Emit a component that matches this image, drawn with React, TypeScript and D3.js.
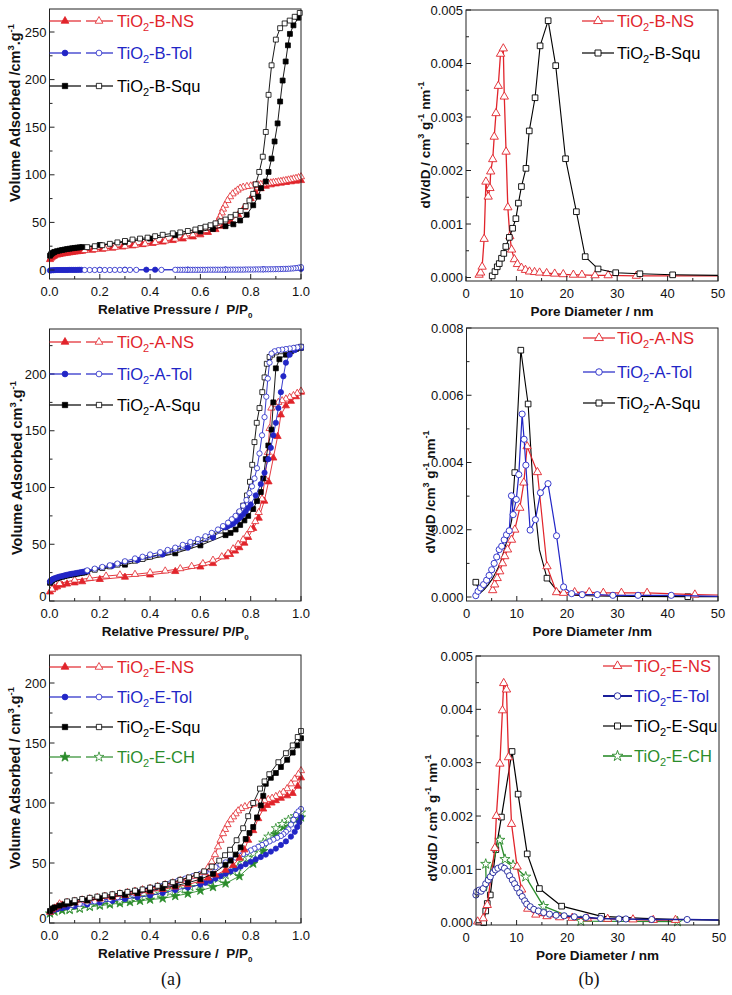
import React from 'react';
import * as d3 from 'd3';

type Pt = [number, number];
type Shape = 'triangle' | 'circle' | 'square' | 'star';

// ---------- (a) top: TiO2-B isotherms ----------
const bNsAds: Pt[] = [[0.002,11],[0.006,12.5],[0.01,13.5],[0.015,14.3],[0.02,14.9],[0.03,15.7],[0.04,16.3],[0.05,16.8],[0.06,17.3],[0.07,17.7],[0.08,18.1],[0.09,18.5],[0.1,18.9],[0.11,19.2],[0.12,19.5],[0.13,19.8],[0.17,20.8],[0.21,21.8],[0.25,23],[0.29,24.2],[0.33,25.4],[0.37,26.7],[0.41,28],[0.45,29.4],[0.49,31],[0.53,32.7],[0.57,34.8],[0.6,37],[0.63,39.5],[0.66,42.5],[0.69,46],[0.72,51],[0.75,58],[0.775,66],[0.8,75],[0.82,81],[0.84,85.5],[0.86,88],[0.88,89.5],[0.9,90.5],[0.92,91.3],[0.94,92],[0.96,92.7],[0.98,93.4],[1.0,94]];
const bNsDes: Pt[] = [[1.0,98],[0.99,97],[0.98,96.3],[0.97,95.7],[0.96,95.1],[0.95,94.6],[0.94,94.1],[0.93,93.6],[0.92,93.1],[0.91,92.7],[0.9,92.3],[0.89,91.9],[0.88,91.5],[0.87,91.1],[0.86,90.7],[0.85,90.3],[0.84,89.9],[0.83,89.5],[0.82,89.1],[0.81,88.7],[0.8,88.3],[0.785,87.8],[0.77,87],[0.758,86],[0.748,84],[0.738,82],[0.728,80],[0.718,77],[0.708,73],[0.698,68],[0.69,64],[0.685,60],[0.678,56],[0.672,52],[0.665,49],[0.655,46.5],[0.64,44],[0.62,41.5],[0.6,39.5],[0.57,37],[0.54,35],[0.5,32.5],[0.46,30.5],[0.42,29],[0.38,27.5],[0.34,26],[0.3,25],[0.26,23.8],[0.22,22.5],[0.18,21.5],[0.14,20.5]];
const bTolAds: Pt[] = [[0.002,-0.5],[0.008,-0.3],[0.015,-0.2],[0.022,-0.1],[0.03,0],[0.038,0],[0.046,0],[0.054,0],[0.062,0],[0.07,0],[0.078,0.1],[0.086,0.1],[0.094,0.1],[0.102,0.1],[0.11,0.1],[0.118,0.2],[0.126,0.2],[0.2,0.2],[0.3,0.3],[0.385,0.3],[0.42,0.3],[0.55,0.4],[0.7,0.5],[0.85,0.7],[1.0,1.2]];
const bTolDes: Pt[] = [[1.0,3],[0.99,2.4],[0.98,2],[0.97,1.7],[0.96,1.5],[0.95,1.3],[0.94,1.2],[0.93,1.1],[0.92,1],[0.91,0.9],[0.9,0.9],[0.89,0.8],[0.88,0.8],[0.87,0.7],[0.86,0.7],[0.85,0.7],[0.84,0.6],[0.83,0.6],[0.82,0.6],[0.81,0.5],[0.8,0.5],[0.79,0.5],[0.78,0.5],[0.77,0.4],[0.76,0.4],[0.75,0.4],[0.74,0.4],[0.73,0.4],[0.72,0.4],[0.71,0.3],[0.7,0.3],[0.69,0.3],[0.68,0.3],[0.67,0.3],[0.66,0.3],[0.65,0.3],[0.64,0.3],[0.63,0.3],[0.62,0.2],[0.61,0.2],[0.6,0.2],[0.59,0.2],[0.58,0.2],[0.57,0.2],[0.56,0.2],[0.55,0.2],[0.54,0.2],[0.53,0.2],[0.52,0.2],[0.51,0.2],[0.5,0.2],[0.445,0.1],[0.345,0.1],[0.32,0.1],[0.3,0.1],[0.28,0.1],[0.26,0.1],[0.24,0],[0.22,0],[0.2,0],[0.18,0],[0.16,0],[0.14,0]];
const bSquAds: Pt[] = [[0.002,15],[0.006,16.5],[0.01,17.5],[0.015,18.3],[0.02,19],[0.03,19.8],[0.04,20.4],[0.05,21],[0.06,21.5],[0.07,22],[0.08,22.4],[0.09,22.8],[0.1,23.2],[0.11,23.5],[0.12,23.8],[0.13,24.1],[0.2,26.3],[0.3,29.5],[0.4,33],[0.5,36.5],[0.6,40.5],[0.65,43],[0.7,46],[0.731,48],[0.758,52],[0.784,58],[0.81,68],[0.83,77],[0.841,86],[0.86,93],[0.871,103],[0.883,117],[0.895,135],[0.907,154],[0.917,177],[0.927,199],[0.939,219],[0.948,236],[0.956,248],[0.97,257],[0.99,265]];
const bSquDes: Pt[] = [[0.995,270],[0.975,266],[0.955,262],[0.935,259],[0.917,254],[0.9,242],[0.883,215],[0.871,184],[0.86,145],[0.848,119],[0.834,103],[0.82,90],[0.81,80],[0.795,73],[0.78,67],[0.76,62],[0.74,58],[0.72,55.5],[0.7,53],[0.68,51],[0.66,49],[0.64,47],[0.62,45.5],[0.6,44],[0.58,42.5],[0.55,41],[0.52,39.5],[0.49,38.5],[0.45,37],[0.42,35.5],[0.39,34],[0.36,33],[0.33,32],[0.3,30.5],[0.27,29],[0.24,27.5],[0.21,26],[0.18,25],[0.15,24]];

// ---------- (a) middle: TiO2-A isotherms ----------
const aNsAds: Pt[] = [[0.002,8],[0.01,10],[0.02,11.5],[0.03,12.5],[0.05,14],[0.07,15],[0.1,16],[0.13,17],[0.2,19],[0.3,21],[0.4,23],[0.5,26],[0.6,30],[0.65,33],[0.7,39],[0.718,41],[0.738,44],[0.755,47],[0.775,51],[0.79,56],[0.81,64],[0.832,73],[0.854,88],[0.871,105],[0.89,126],[0.907,145],[0.92,164],[0.94,172],[0.96,176],[0.98,180],[1.0,184]];
const aNsDes: Pt[] = [[1.0,185],[0.985,183],[0.97,181],[0.955,179.5],[0.94,178],[0.925,176.5],[0.91,175],[0.895,173],[0.882,170],[0.875,152],[0.868,131],[0.857,108],[0.845,90],[0.832,78],[0.818,70],[0.8,63],[0.785,58],[0.77,54],[0.75,50],[0.73,46],[0.71,42],[0.685,39],[0.65,36],[0.61,33],[0.565,30.5],[0.52,28.5],[0.46,26.5],[0.4,25],[0.34,23.5],[0.28,23],[0.225,22],[0.16,20],[0.1,18.5],[0.04,15.5],[0.01,10.5]];
const aTolAds: Pt[] = [[0.002,17],[0.005,18],[0.01,18.8],[0.015,19.5],[0.02,20],[0.03,20.8],[0.04,21.5],[0.05,22],[0.06,22.6],[0.07,23.1],[0.08,23.6],[0.09,24],[0.1,24.4],[0.11,24.8],[0.12,25.2],[0.13,25.6],[0.14,26],[0.15,26.3],[0.25,31],[0.35,36],[0.45,41],[0.55,47],[0.65,56],[0.7,65],[0.71,66],[0.72,67],[0.73,68],[0.74,70],[0.75,72],[0.76,74],[0.77,76.5],[0.78,79],[0.79,82],[0.8,85],[0.82,93],[0.84,103],[0.855,113],[0.87,125],[0.88,135],[0.89,146],[0.9,157],[0.91,170],[0.92,184],[0.93,198],[0.94,210],[0.955,217],[0.975,221],[1.0,223]];
const aTolDes: Pt[] = [[1.0,224],[0.985,223.5],[0.97,223],[0.955,222.5],[0.94,222],[0.925,221.5],[0.91,221],[0.895,220],[0.883,218],[0.875,210],[0.868,196],[0.862,180],[0.855,162],[0.845,146],[0.835,130],[0.825,117],[0.815,108],[0.805,101],[0.795,95],[0.783,89],[0.77,84],[0.755,79],[0.74,75],[0.725,72],[0.71,69],[0.69,66],[0.67,63],[0.645,60],[0.62,57],[0.59,54.5],[0.56,52],[0.53,49.5],[0.5,47],[0.47,45],[0.44,43],[0.4,41],[0.37,39],[0.34,37.5],[0.3,35],[0.27,33],[0.24,31.5],[0.21,30],[0.18,28.5],[0.15,27]];
const aSquAds: Pt[] = [[0.002,16],[0.005,17],[0.01,18],[0.02,19.2],[0.03,20],[0.04,20.7],[0.05,21.3],[0.06,21.9],[0.07,22.4],[0.08,22.9],[0.09,23.3],[0.1,23.7],[0.11,24.1],[0.12,24.5],[0.13,24.9],[0.14,25.2],[0.3,32],[0.5,42],[0.6,49],[0.7,58],[0.72,60],[0.74,63],[0.758,67],[0.775,71],[0.79,75],[0.81,81],[0.825,88],[0.84,96],[0.85,108],[0.86,125],[0.87,137],[0.883,151],[0.89,175],[0.9,205],[0.914,213],[0.94,217],[0.96,220],[0.98,222],[1.0,223]];
const aSquDes: Pt[] = [[1.0,224],[0.98,223],[0.96,222],[0.94,221],[0.92,220],[0.9,219],[0.885,217],[0.875,215],[0.864,209],[0.855,197],[0.846,184],[0.835,170],[0.824,157],[0.815,140],[0.806,120],[0.797,105],[0.785,93],[0.77,84],[0.755,78],[0.74,73],[0.72,69],[0.7,65],[0.68,62],[0.65,58],[0.62,54.5],[0.59,52],[0.56,49],[0.53,47],[0.5,45],[0.47,43],[0.44,41],[0.4,39],[0.37,37],[0.34,35.5],[0.3,34],[0.27,32],[0.24,30.5],[0.21,29],[0.18,27.5],[0.15,26]];

// ---------- (a) bottom: TiO2-E isotherms ----------
const eNsAds: Pt[] = [[0.002,9],[0.01,11],[0.02,12.5],[0.03,13.5],[0.05,15],[0.07,16],[0.1,17],[0.15,18.5],[0.2,20],[0.25,21.5],[0.3,23],[0.35,24.5],[0.4,26],[0.45,28],[0.5,30],[0.55,32],[0.6,35],[0.63,37.5],[0.66,40],[0.7,44],[0.73,48],[0.755,54],[0.775,61],[0.79,69],[0.81,77],[0.83,87],[0.85,95],[0.865,98],[0.883,100],[0.9,102],[0.92,104],[0.945,106],[0.967,108],[0.987,114],[1.0,121]];
const eNsDes: Pt[] = [[1.0,127],[0.99,124],[0.975,120],[0.96,116],[0.945,112],[0.93,109],[0.915,107],[0.9,105.5],[0.885,104],[0.87,103],[0.855,102],[0.84,101],[0.825,100],[0.81,99],[0.795,98],[0.777,97],[0.762,95.5],[0.75,93.5],[0.74,91],[0.73,88.5],[0.72,86],[0.708,82],[0.698,78],[0.69,74.5],[0.68,69],[0.67,63.5],[0.658,57],[0.645,51],[0.63,46],[0.61,42],[0.58,39],[0.55,37],[0.52,35.5],[0.49,33.5],[0.46,32],[0.43,30.5],[0.4,29],[0.37,27.8],[0.34,26.6],[0.31,25.5],[0.28,24.4],[0.25,23.3],[0.22,22.3],[0.19,21.3],[0.16,20.3],[0.13,19.3],[0.1,18.3],[0.07,17.2],[0.04,16]];
const eTolAds: Pt[] = [[0.002,9],[0.01,10],[0.02,11],[0.03,11.5],[0.05,12.5],[0.07,13.2],[0.1,14],[0.15,15.5],[0.2,17],[0.25,18.5],[0.3,20],[0.35,21.5],[0.4,23],[0.45,25],[0.5,27.5],[0.55,29.5],[0.6,32],[0.62,33.5],[0.64,35],[0.66,37],[0.68,39],[0.7,41],[0.72,43],[0.74,45],[0.76,47],[0.78,49],[0.8,51],[0.82,53],[0.84,55],[0.86,57],[0.88,59.5],[0.9,62],[0.92,65],[0.94,68],[0.96,72],[0.975,76],[0.985,80],[0.993,84],[1.0,88]];
const eTolDes: Pt[] = [[1.0,95],[0.99,93],[0.98,90],[0.97,86],[0.96,82],[0.95,78],[0.94,76],[0.93,74],[0.92,72.5],[0.905,71],[0.89,69.5],[0.875,68],[0.86,66.5],[0.845,65],[0.83,63.5],[0.815,62],[0.8,60.5],[0.785,59],[0.77,57.5],[0.755,56],[0.74,54.5],[0.72,52.5],[0.7,50.5],[0.68,48.5],[0.66,46.5],[0.64,44.5],[0.62,42.5],[0.6,41],[0.57,39],[0.54,37],[0.51,35],[0.48,33],[0.45,31],[0.42,29],[0.39,27.5],[0.36,26],[0.33,24.5],[0.3,23],[0.27,21.5],[0.24,20],[0.21,19],[0.18,18],[0.15,17],[0.12,16],[0.09,15]];
const eSquAds: Pt[] = [[0.002,10],[0.01,12],[0.02,13],[0.04,14.5],[0.06,15.5],[0.08,16.3],[0.1,17],[0.15,18.8],[0.2,20.5],[0.25,22],[0.3,23.5],[0.35,25],[0.4,27],[0.45,29],[0.5,31],[0.55,33.5],[0.6,36.5],[0.65,41],[0.7,48.5],[0.72,52],[0.74,57],[0.76,63],[0.78,70],[0.795,75],[0.81,80],[0.825,88],[0.84,98],[0.85,106],[0.86,116],[0.88,121],[0.9,125],[0.92,130],[0.945,136],[0.967,142],[0.985,148],[1.0,154]];
const eSquDes: Pt[] = [[1.0,160],[0.987,155],[0.967,148],[0.94,141.5],[0.91,134],[0.874,124],[0.855,118],[0.837,112],[0.81,100],[0.79,89],[0.77,79],[0.744,69],[0.718,61],[0.698,56.5],[0.675,52],[0.645,47],[0.615,43],[0.585,40],[0.555,38],[0.52,36],[0.49,34],[0.46,32.5],[0.43,31],[0.4,29.5],[0.37,28],[0.34,27],[0.31,26],[0.28,25],[0.25,24],[0.22,23],[0.19,22],[0.16,21],[0.13,20],[0.1,19],[0.07,18]];
const eChAds: Pt[] = [[0.002,8],[0.02,9.5],[0.05,10.5],[0.08,11],[0.12,12],[0.16,13.5],[0.2,14.5],[0.24,15.5],[0.28,16.5],[0.32,17.5],[0.36,18.5],[0.4,19.5],[0.45,20.5],[0.5,22.5],[0.55,24.5],[0.6,27],[0.65,30],[0.7,33],[0.755,39],[0.81,49.5],[0.85,60],[0.898,74],[0.93,80],[0.96,84],[0.98,86],[1.0,88]];
const eChDes: Pt[] = [[1.0,92],[0.975,89],[0.95,86],[0.925,82.5],[0.9,79],[0.87,72],[0.85,67],[0.83,62],[0.81,58],[0.79,54],[0.77,50],[0.75,46.5],[0.73,43],[0.7,40],[0.67,37],[0.64,34.5],[0.6,32],[0.56,30],[0.52,28],[0.48,26],[0.44,24.5],[0.4,23],[0.36,21.5],[0.32,20],[0.28,18.5],[0.24,17],[0.2,15.5],[0.16,14],[0.12,12.5],[0.08,11.5]];

// ---------- (b) pore size distributions ----------
const bNsPsd: Pt[] = [[2.6,0.00005],[2.9,0.00009],[3.2,0.0002],[3.6,0.00072],[3.95,0.00179],[4.4,0.00151],[4.75,0.00167],[4.9,0.00198],[5.3,0.00221],[5.6,0.00263],[5.95,0.00307],[6.4,0.00358],[6.85,0.00418],[7.4,0.00428],[7.6,0.00338],[7.95,0.00235],[8.3,0.00131],[8.7,0.00077],[9.05,0.00052],[9.6,0.00034],[10.2,0.00025],[11,0.00018],[11.8,0.00014],[12.6,0.00011],[13.6,0.0001],[14.6,0.00009],[16,0.00008],[17.6,0.00007],[19.3,0.00006],[21.3,0.00005],[23,0.00005],[25.6,0.00004],[28.2,0.00004],[33.8,0.00003],[50,0.00003]];
const bSquPsd: Pt[] = [[5.2,0.00003],[5.75,0.00011],[6.2,0.0002],[6.6,0.00026],[7.05,0.00036],[7.5,0.00045],[7.9,0.00058],[8.6,0.00075],[9.25,0.00092],[9.9,0.0011],[10.4,0.00139],[11.0,0.0017],[11.9,0.00204],[12.55,0.00274],[13.7,0.00336],[14.7,0.00433],[16.3,0.0048],[17.8,0.00396],[19.75,0.00222],[21.9,0.00123],[23.65,0.00039],[26.2,0.00016],[29.7,0.00009],[34.5,0.00007],[41,0.00005],[50,0.00004]];
const aNsPsd: Pt[] = [[5.2,0.0002],[5.6,0.00037],[6.1,0.00056],[6.6,0.00076],[7.15,0.001],[7.6,0.00121],[8.15,0.00141],[8.95,0.0017],[9.6,0.002],[10.6,0.00265],[11.4,0.0034],[12.05,0.00448],[14.1,0.00371],[16.0,0.00091],[17.9,0.00014],[19.3,0.00012],[21.5,0.00014],[24.4,0.00014],[27.2,0.00012],[30.8,0.00012],[35.9,0.00012],[45.4,0.00007],[50,0.00006]];
const aTolPsd: Pt[] = [[1.85,0.00004],[2.3,0.00017],[2.8,0.00027],[3.4,0.00037],[4.0,0.0005],[4.5,0.00064],[5.0,0.00081],[5.5,0.001],[6.0,0.00119],[6.5,0.00141],[7.0,0.00151],[7.5,0.0017],[7.95,0.00185],[8.5,0.00197],[8.94,0.00301],[9.27,0.00245],[9.9,0.0029],[10.4,0.00364],[11.06,0.00544],[11.45,0.00469],[11.8,0.00392],[12.65,0.00199],[13.7,0.0023],[14.7,0.0031],[16.2,0.00337],[17.9,0.00182],[19.3,0.0003],[20.9,0.0001],[23,0.00007],[26,0.00007],[29.1,0.00005],[34.1,0.00005],[40.7,0.00005],[50,0.00002]];
const aSquPsd: Pt[] = [[1.85,0.00044],[2.7,0.00012],[3.5,0.00022],[4.3,0.00036],[5.1,0.00053],[5.9,0.00075],[6.7,0.001],[7.5,0.0014],[8.3,0.0018],[9.0,0.0023],[9.6,0.0037],[10.8,0.00734],[12.25,0.00574],[13.3,0.0031],[14.5,0.0014],[16.0,0.00056],[17.5,0.00028],[19.0,0.0001],[21,0.00005],[26,0.00003],[33,0.00002],[44,0.00001],[50,0.00001]];
const eNsPsd: Pt[] = [[2.3,0.00002],[3.4,0.00008],[4.2,0.00033],[5.7,0.0014],[6.0,0.002],[6.7,0.00298],[7.2,0.00398],[7.45,0.00449],[8.0,0.00437],[8.4,0.0031],[9.0,0.00185],[10.1,0.00105],[11.0,0.00062],[12.2,0.00026],[13.8,0.00015],[16,0.00012],[18.5,0.0001],[21,0.00009],[24,0.00008],[28,0.00007],[33,0.00006],[37,0.00005],[41.4,0.00005]];
const eTolPsd: Pt[] = [[1.96,0.00052],[2.1,0.00058],[2.6,0.00061],[3.0,0.00059],[3.4,0.00064],[3.9,0.00073],[4.4,0.0008],[4.8,0.00086],[5.35,0.00094],[5.8,0.00099],[6.3,0.00102],[7.0,0.00105],[7.6,0.00102],[8.2,0.00096],[8.6,0.00088],[9.15,0.0008],[9.6,0.00073],[10.06,0.00065],[10.6,0.00056],[11.1,0.00049],[11.6,0.00041],[12.0,0.00035],[12.7,0.0003],[13.4,0.00025],[14.3,0.00022],[15.35,0.00019],[16.5,0.00016],[17.8,0.00014],[19.4,0.00013],[21.4,0.00011],[23.7,0.0001],[26.6,0.00008],[30.2,0.00007],[31.6,0.00007],[36.7,0.00006],[43.7,0.00006],[50,0.00005]];
const eSquPsd: Pt[] = [[3.5,0.0],[3.9,0.00022],[4.2,0.00036],[4.8,0.00052],[5.9,0.00137],[7.0,0.00198],[9.1,0.00321],[10.3,0.00241],[12.1,0.00129],[14.5,0.00064],[18.9,0.00031],[26.8,0.00012],[35,0.00008],[42,0.00006],[50,0.00005]];
const eChPsd: Pt[] = [[3.9,0.0011],[4.0,0.0006],[5.0,0.00105],[6.7,0.00155],[7.7,0.00119],[9.3,0.00108],[11.8,0.00086],[15.3,0.00031],[22.7,0.00003],[41.8,0.00002]];

// ---------- ticks & labels ----------
const isoXTicks = [0, 0.2, 0.4, 0.6, 0.8, 1.0];
const isoXMinor = [0.1, 0.3, 0.5, 0.7, 0.9];
const psdXTicks = [0, 10, 20, 30, 40, 50];
const psdXMinor = [5, 15, 25, 35, 45];
const tlYTicks = [0, 50, 100, 150, 200, 250];
const tlYMinor = [25, 75, 125, 175, 225];
const mlYTicks = [0, 50, 100, 150, 200];
const mlYMinor = [25, 75, 125, 175, 225];
const blYTicks = [0, 50, 100, 150, 200];
const blYMinor = [25, 75, 125, 175];
const trYTicks = [0, 0.001, 0.002, 0.003, 0.004, 0.005];
const trYMinor = [0.0005, 0.0015, 0.0025, 0.0035, 0.0045];
const mrYTicks = [0, 0.002, 0.004, 0.006, 0.008];
const mrYMinor = [0.001, 0.003, 0.005, 0.007];
const bLegend = ['-B-NS', '-B-Tol', '-B-Squ'];
const aLegend = ['-A-NS', '-A-Tol', '-A-Squ'];
const eLegend = ['-E-NS', '-E-Tol', '-E-Squ', '-E-CH'];

const RED = '#e1242b';
const BLUE = '#2226c6';
const NAVY = '#1a1f9a';
const GREEN = '#2b8c2b';
const BLACK = '#000000';
const FONT = '"Liberation Sans", Arial, Helvetica, sans-serif';

const symbolTypes: Record<Shape, d3.SymbolType> = {
  triangle: d3.symbolTriangle,
  circle: d3.symbolCircle,
  square: d3.symbolSquare,
  star: d3.symbolStar,
};
function symPath(shape: Shape, size: number): string {
  return d3.symbol().type(symbolTypes[shape]).size(size)() || '';
}

interface Series { data: Pt[]; color: string; shape: Shape; filled: boolean; lw?: number; bare?: number[]; }
interface LegItem { suffix: string; color: string; shape: Shape; y: number; lw?: number; }
interface PanelCfg {
  frame: { x0: number; x1: number; y0: number; y1: number };
  xDom: [number, number]; xRange: [number, number];
  yDom: [number, number]; yRange: [number, number];
  xTicks: number[]; xMinor: number[]; yTicks: number[]; yMinor: number[];
  xFmt: (v: number) => string; yFmt: (v: number) => string;
  xTitle: React.ReactNode; yTitle: React.ReactNode;
  yTitleX: number; yTitleY: number; yTitleSize: number;
  series: Series[];
  legend: LegItem[];
  twin: boolean;
  legLine: [number, number]; legText: number;
  msize: Record<Shape, number>; lw: number; mw: number;
  zeroLift: number;
}

const leftSize: Record<Shape, number> = { triangle: 22, circle: 22, square: 24, star: 26 };
const rightSize: Record<Shape, number> = { triangle: 30, circle: 30, square: 32, star: 32 };

const fmt1 = (v: number) => v.toFixed(1);
const fmt0 = (v: number) => String(v);
const fmt3 = (v: number) => v.toFixed(3);

function isoTitle(text: string) {
  return (<>{text}<tspan dy={4} fontSize={8}>0</tspan></>);
}
function volTitle(text: string) {
  return (<>{text}<tspan dy={-6} fontSize={9.5}>3</tspan><tspan dy={6}>.g</tspan><tspan dy={-6} fontSize={9.5}>-1</tspan></>);
}
function dvTitle(text: string) {
  return (<>{text}<tspan dy={-6} fontSize={9}>3</tspan><tspan dy={6}> g</tspan><tspan dy={-6} fontSize={9}>-1</tspan><tspan dy={6}> nm</tspan><tspan dy={-6} fontSize={9}>-1</tspan></>);
}

const panels: PanelCfg[] = [
  {
    frame: { x0: 49.5, x1: 301, y0: 9, y1: 279 },
    xDom: [0, 1], xRange: [49.5, 301], yDom: [0, 250], yRange: [270, 32],
    xTicks: isoXTicks, xMinor: isoXMinor, yTicks: tlYTicks, yMinor: tlYMinor,
    xFmt: fmt1, yFmt: fmt0,
    xTitle: isoTitle('Relative Pressure /  P/P'), yTitle: volTitle('Volume Adsorbed /cm'),
    yTitleX: 15, yTitleY: 113, yTitleSize: 14.5,
    series: [
      { data: bNsAds, color: RED, shape: 'triangle', filled: true },
      { data: bNsDes, color: RED, shape: 'triangle', filled: false },
      { data: bTolAds, color: BLUE, shape: 'circle', filled: true },
      { data: bTolDes, color: BLUE, shape: 'circle', filled: false },
      { data: bSquAds, color: BLACK, shape: 'square', filled: true },
      { data: bSquDes, color: BLACK, shape: 'square', filled: false },
    ],
    legend: [
      { suffix: bLegend[0], color: RED, shape: 'triangle', y: 21 },
      { suffix: bLegend[1], color: BLUE, shape: 'circle', y: 53 },
      { suffix: bLegend[2], color: BLACK, shape: 'square', y: 86 },
    ],
    twin: true, legLine: [49.5, 113], legText: 117,
    msize: leftSize, lw: 0.9, mw: 0.8, zeroLift: 0,
  },
  {
    frame: { x0: 466, x1: 718, y0: 10, y1: 281 },
    xDom: [0, 50], xRange: [466, 718], yDom: [0, 0.005], yRange: [277.5, 10],
    xTicks: psdXTicks, xMinor: psdXMinor, yTicks: trYTicks, yMinor: trYMinor,
    xFmt: fmt0, yFmt: fmt3,
    xTitle: 'Pore Diameter / nm', yTitle: dvTitle('dV/dD / cm'),
    yTitleX: 425, yTitleY: 145, yTitleSize: 13.5,
    series: [
      { data: bNsPsd, color: RED, shape: 'triangle', filled: false, lw: 1.3, bare: [34] },
      { data: bSquPsd, color: BLACK, shape: 'square', filled: false, lw: 1.1, bare: [25] },
    ],
    legend: [
      { suffix: bLegend[0], color: RED, shape: 'triangle', y: 21 },
      { suffix: bLegend[2], color: BLACK, shape: 'square', y: 53 },
    ],
    twin: false, legLine: [582, 614], legText: 617,
    msize: rightSize, lw: 1.1, mw: 0.9, zeroLift: 0,
  },
  {
    frame: { x0: 49.5, x1: 301, y0: 329, y1: 601 },
    xDom: [0, 1], xRange: [49.5, 301], yDom: [0, 200], yRange: [601, 374],
    xTicks: isoXTicks, xMinor: isoXMinor, yTicks: mlYTicks, yMinor: mlYMinor,
    xFmt: fmt1, yFmt: fmt0,
    xTitle: isoTitle('Relative Pressure/ P/P'), yTitle: volTitle('Volume Adsorbed cm'),
    yTitleX: 17, yTitleY: 468, yTitleSize: 14.5,
    series: [
      { data: aNsAds, color: RED, shape: 'triangle', filled: true },
      { data: aNsDes, color: RED, shape: 'triangle', filled: false },
      { data: aSquAds, color: BLACK, shape: 'square', filled: true },
      { data: aSquDes, color: BLACK, shape: 'square', filled: false },
      { data: aTolAds, color: BLUE, shape: 'circle', filled: true },
      { data: aTolDes, color: BLUE, shape: 'circle', filled: false },
    ],
    legend: [
      { suffix: aLegend[0], color: RED, shape: 'triangle', y: 342 },
      { suffix: aLegend[1], color: BLUE, shape: 'circle', y: 374 },
      { suffix: aLegend[2], color: BLACK, shape: 'square', y: 405 },
    ],
    twin: true, legLine: [49.5, 113], legText: 117,
    msize: leftSize, lw: 0.9, mw: 0.8, zeroLift: 5,
  },
  {
    frame: { x0: 466.5, x1: 718, y0: 328, y1: 601 },
    xDom: [0, 50], xRange: [466.5, 718], yDom: [0, 0.008], yRange: [597, 328],
    xTicks: psdXTicks, xMinor: psdXMinor, yTicks: mrYTicks, yMinor: mrYMinor,
    xFmt: fmt0, yFmt: fmt3,
    xTitle: 'Pore Diameter /nm', yTitle: dvTitle('dV/dD /cm'),
    yTitleX: 430, yTitleY: 492, yTitleSize: 13.5,
    series: [
      { data: aSquPsd, color: BLACK, shape: 'square', filled: false, lw: 1.1, bare: [1, 2, 3, 4, 5, 6, 7, 8, 9, 13, 14, 16, 17, 18, 19, 20, 22] },
      { data: aNsPsd, color: RED, shape: 'triangle', filled: false, lw: 1.2, bare: [22] },
      { data: aTolPsd, color: BLUE, shape: 'circle', filled: false, lw: 1.2, bare: [33] },
    ],
    legend: [
      { suffix: aLegend[0], color: RED, shape: 'triangle', y: 338 },
      { suffix: aLegend[1], color: BLUE, shape: 'circle', y: 372 },
      { suffix: aLegend[2], color: BLACK, shape: 'square', y: 403 },
    ],
    twin: false, legLine: [583, 615], legText: 617,
    msize: rightSize, lw: 1.1, mw: 0.9, zeroLift: 0,
  },
  {
    frame: { x0: 49.5, x1: 301, y0: 655, y1: 923 },
    xDom: [0, 1], xRange: [49.5, 301], yDom: [0, 200], yRange: [923, 683],
    xTicks: isoXTicks, xMinor: isoXMinor, yTicks: blYTicks, yMinor: blYMinor,
    xFmt: fmt1, yFmt: fmt0,
    xTitle: isoTitle('Relative Pressure /  P/P'), yTitle: volTitle('Volume Adsorbed / cm'),
    yTitleX: 15, yTitleY: 778, yTitleSize: 14.5,
    series: [
      { data: eChAds, color: GREEN, shape: 'star', filled: true },
      { data: eChDes, color: GREEN, shape: 'star', filled: false },
      { data: eTolAds, color: BLUE, shape: 'circle', filled: true },
      { data: eTolDes, color: BLUE, shape: 'circle', filled: false },
      { data: eNsAds, color: RED, shape: 'triangle', filled: true },
      { data: eNsDes, color: RED, shape: 'triangle', filled: false },
      { data: eSquAds, color: BLACK, shape: 'square', filled: true },
      { data: eSquDes, color: BLACK, shape: 'square', filled: false },
    ],
    legend: [
      { suffix: eLegend[0], color: RED, shape: 'triangle', y: 667 },
      { suffix: eLegend[1], color: BLUE, shape: 'circle', y: 697 },
      { suffix: eLegend[2], color: BLACK, shape: 'square', y: 727 },
      { suffix: eLegend[3], color: GREEN, shape: 'star', y: 757 },
    ],
    twin: true, legLine: [49.5, 113], legText: 117,
    msize: leftSize, lw: 0.9, mw: 0.8, zeroLift: 5,
  },
  {
    frame: { x0: 476, x1: 719, y0: 656, y1: 925 },
    xDom: [0, 50], xRange: [466, 719], yDom: [0, 0.005], yRange: [922.7, 656],
    xTicks: psdXTicks, xMinor: psdXMinor, yTicks: trYTicks, yMinor: trYMinor,
    xFmt: fmt0, yFmt: fmt3,
    xTitle: 'Pore Diameter / nm', yTitle: dvTitle('dV/dD / cm'),
    yTitleX: 432, yTitleY: 818, yTitleSize: 13.5,
    series: [
      { data: eSquPsd, color: BLACK, shape: 'square', filled: false, lw: 1.2, bare: [12, 13, 14] },
      { data: eChPsd, color: GREEN, shape: 'star', filled: false, lw: 1.3, bare: [1, 2] },
      { data: eNsPsd, color: RED, shape: 'triangle', filled: false, lw: 1.3 },
      { data: eTolPsd, color: NAVY, shape: 'circle', filled: false, lw: 1.6, bare: [36] },
    ],
    legend: [
      { suffix: eLegend[0], color: RED, shape: 'triangle', y: 666 },
      { suffix: eLegend[1], color: NAVY, shape: 'circle', y: 696, lw: 2 },
      { suffix: eLegend[2], color: BLACK, shape: 'square', y: 726 },
      { suffix: eLegend[3], color: GREEN, shape: 'star', y: 756, lw: 1.6 },
    ],
    twin: false, legLine: [603, 632], legText: 634,
    msize: rightSize, lw: 1.2, mw: 0.9, zeroLift: 0,
  },
];

const legendTextColor = (c: string) => (c === NAVY ? BLUE : c);

function Panel({ c }: { c: PanelCfg }) {
  const x = d3.scaleLinear().domain(c.xDom).range(c.xRange);
  const y = d3.scaleLinear().domain(c.yDom).range(c.yRange);
  const line = d3.line<Pt>().x((d) => x(d[0])).y((d) => y(d[1]));
  const f = c.frame;
  const inX = (v: number) => x(v) >= f.x0 - 0.5 && x(v) <= f.x1 + 0.5;
  const inY = (v: number) => y(v) >= f.y0 - 0.5 && y(v) <= f.y1 + 0.5;
  const midX = (f.x0 + f.x1) / 2;
  const stroke = '#222';
  return (
    <g fontFamily={FONT}>
      {c.series.map((s, i) => (
        <g key={i}>
          <path d={line(s.data) || ''} fill="none" stroke={s.color} strokeWidth={s.lw ?? c.lw} strokeLinejoin="round" />
          {s.data.map((d, j) =>
            s.bare && s.bare.includes(j) ? null : (
              <path key={j} d={symPath(s.shape, c.msize[s.shape])}
                transform={`translate(${x(d[0]).toFixed(2)},${y(d[1]).toFixed(2)})`}
                fill={s.filled ? s.color : '#ffffff'} stroke={s.color} strokeWidth={c.mw} />
            )
          )}
        </g>
      ))}
      <rect x={f.x0} y={f.y0} width={f.x1 - f.x0} height={f.y1 - f.y0} fill="none" stroke={stroke} strokeWidth={1} />
      {c.xTicks.filter(inX).map((v) => (
        <line key={'xt' + v} x1={x(v)} x2={x(v)} y1={f.y1} y2={f.y1 - 5} stroke={stroke} strokeWidth={1} />
      ))}
      {c.xMinor.filter(inX).map((v) => (
        <line key={'xm' + v} x1={x(v)} x2={x(v)} y1={f.y1} y2={f.y1 - 3} stroke={stroke} strokeWidth={1} />
      ))}
      {c.yTicks.filter(inY).map((v) => (
        <line key={'yt' + v} x1={f.x0} x2={f.x0 + 5} y1={y(v)} y2={y(v)} stroke={stroke} strokeWidth={1} />
      ))}
      {c.yMinor.filter(inY).map((v) => (
        <line key={'ym' + v} x1={f.x0} x2={f.x0 + 3} y1={y(v)} y2={y(v)} stroke={stroke} strokeWidth={1} />
      ))}
      {c.xTicks.map((v) => (
        <text key={'xl' + v} x={x(v)} y={f.y1 + 16.5} fontSize={13} textAnchor="middle" fill="#111">{c.xFmt(v)}</text>
      ))}
      {c.yTicks.filter(inY).map((v) => (
        <text key={'yl' + v} x={f.x0 - 3} y={y(v) + 4.6 - (v === 0 ? c.zeroLift : 0)} fontSize={13} textAnchor="end" fill="#111">{c.yFmt(v)}</text>
      ))}
      <text x={midX} y={f.y1 + 35} fontSize={13.5} fontWeight="bold" textAnchor="middle" fill="#111" style={{ whiteSpace: 'pre' }}>{c.xTitle}</text>
      <text transform={`translate(${c.yTitleX + c.yTitleSize * 0.36},${c.yTitleY}) rotate(-90)`} fontSize={c.yTitleSize} fontWeight="bold" textAnchor="middle" fill="#111">{c.yTitle}</text>
      {c.legend.map((L, i) => {
        const lw = L.lw ?? 1.2;
        const ms = c.msize[L.shape] + 4;
        return (
          <g key={'lg' + i}>
            {c.twin ? (
              <>
                <line x1={c.legLine[0]} x2={81} y1={L.y} y2={L.y} stroke={L.color} strokeWidth={lw} />
                <line x1={86} x2={c.legLine[1]} y1={L.y} y2={L.y} stroke={L.color} strokeWidth={lw} />
                <path d={symPath(L.shape, ms)} transform={`translate(65,${L.y})`} fill={L.color} stroke={L.color} strokeWidth={0.8} />
                <path d={symPath(L.shape, ms)} transform={`translate(99,${L.y})`} fill="#fff" stroke={L.color} strokeWidth={0.8} />
              </>
            ) : (
              <>
                <line x1={c.legLine[0]} x2={c.legLine[1]} y1={L.y} y2={L.y} stroke={L.color} strokeWidth={lw} />
                <path d={symPath(L.shape, ms)} transform={`translate(${(c.legLine[0] + c.legLine[1]) / 2},${L.y})`} fill="#fff" stroke={L.color} strokeWidth={0.9} />
              </>
            )}
            <text x={c.legText} y={L.y + 6} fontSize={16.5} fill={legendTextColor(L.color)}>
              TiO<tspan dy={4} fontSize={11}>2</tspan><tspan dy={-4}>{L.suffix}</tspan>
            </text>
          </g>
        );
      })}
    </g>
  );
}

export default function App() {
  return (
    <div style={{ position: 'absolute', left: 0, top: 0, width: 732, height: 995, background: '#fff' }}>
      <svg width={732} height={995} viewBox="0 0 732 995" style={{ display: 'block' }}>
        <rect x={0} y={0} width={732} height={995} fill="#fff" />
        {panels.map((p, i) => <Panel key={i} c={p} />)}
        <text x={171} y={985} fontSize={18} textAnchor="middle" fontFamily='"Liberation Serif", "Times New Roman", serif' fill="#111">(a)</text>
        <text x={589} y={985} fontSize={18} textAnchor="middle" fontFamily='"Liberation Serif", "Times New Roman", serif' fill="#111">(b)</text>
      </svg>
    </div>
  );
}
